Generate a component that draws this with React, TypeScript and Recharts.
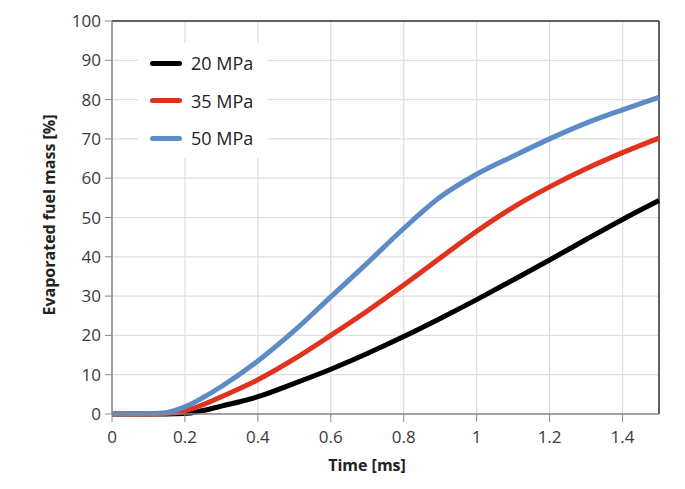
import React from "react";
import {
  LineChart,
  Line,
  XAxis,
  YAxis,
  CartesianGrid,
  ReferenceLine,
} from "recharts";

const time = [0, 0.1, 0.15, 0.2, 0.25, 0.3, 0.4, 0.5, 0.6, 0.7, 0.8, 0.9, 1.0, 1.1, 1.2, 1.3, 1.4, 1.5];
const mpa20 = [0, 0, 0, 0.1, 0.9, 2, 4.4, 7.8, 11.4, 15.4, 19.7, 24.3, 29.1, 34.1, 39.2, 44.4, 49.5, 54.3];
const mpa35 = [0, 0, 0.1, 0.8, 2.4, 4.4, 8.7, 14, 20, 26.2, 32.8, 39.7, 46.5, 52.6, 57.8, 62.4, 66.5, 70.2];
const mpa50 = [0, 0.1, 0.4, 1.8, 4.2, 7, 13.5, 21.2, 29.8, 38.4, 47.2, 55.2, 61, 65.6, 70, 74, 77.4, 80.6];

const xTicks = [0, 0.2, 0.4, 0.6, 0.8, 1, 1.2, 1.4];
const yTicks = [0, 10, 20, 30, 40, 50, 60, 70, 80, 90, 100];

const seriesNames = ["20 MPa", "35 MPa", "50 MPa"];
const seriesColors = ["#000000", "#e0321c", "#5d8bc5"];
const seriesKeys = ["mpa20", "mpa35", "mpa50"];

const data = time.map((t, i) => ({
  t,
  mpa20: mpa20[i],
  mpa35: mpa35[i],
  mpa50: mpa50[i],
}));

const font = "'Open Sans', 'Noto Sans', sans-serif";

function LegendBox() {
  return (
    <div
      style={{
        position: "absolute",
        left: 138,
        top: 43,
        width: 130,
        height: 115,
        background: "#fff",
        fontFamily: font,
      }}
    >
      {seriesNames.map((name, i) => (
        <div
          key={name}
          style={{ position: "absolute", left: 12, top: 8 + i * 37.5, display: "flex", alignItems: "center" }}
        >
          <div style={{ width: 32, height: 5, borderRadius: 3, background: seriesColors[i] }} />
          <span style={{ marginLeft: 9, fontSize: 18, color: "#222" }}>{name}</span>
        </div>
      ))}
    </div>
  );
}

export default function App() {
  return (
    <div style={{ position: "absolute", left: 0, top: 0, width: 685, height: 489, background: "#fff" }}>
      <LineChart width={685} height={489} data={data} margin={{ top: 21, right: 26, bottom: 25, left: 0 }}>
        <CartesianGrid stroke="#dedede" strokeWidth={1.2} />
        <XAxis
          dataKey="t"
          type="number"
          domain={[0, 1.5]}
          ticks={xTicks}
          height={50}
          tickSize={8}
          tickMargin={9}
          tickLine={{ stroke: "#888" }}
          axisLine={{ stroke: "#888", strokeWidth: 1.5 }}
          tick={{ fill: "#3a3a3a", fontSize: 17, fontFamily: font }}
          label={() => (
            <text x={367} y={471} textAnchor="middle" fontFamily={font} fontWeight="bold" fontSize={16} fill="#222">
              Time [ms]
            </text>
          )}
        />
        <YAxis
          type="number"
          domain={[0, 100]}
          ticks={yTicks}
          width={112}
          tickSize={7}
          tickMargin={4}
          tickLine={{ stroke: "#888" }}
          axisLine={{ stroke: "#888", strokeWidth: 1.5 }}
          tick={{ fill: "#3a3a3a", fontSize: 17, fontFamily: font }}
          label={() => (
            <text
              x={55}
              y={215}
              transform="rotate(-90 55 215)"
              textAnchor="middle"
              fontFamily={font}
              fontWeight="bold"
              fontSize={16}
              fill="#222"
            >
              Evaporated fuel mass [%]
            </text>
          )}
        />
        <ReferenceLine y={100} stroke="#333" strokeWidth={1.5} />
        <ReferenceLine x={1.5} stroke="#333" strokeWidth={1.5} />
        {seriesKeys.map((k, i) => (
          <Line
            key={k}
            dataKey={k}
            name={seriesNames[i]}
            type="monotone"
            stroke={seriesColors[i]}
            strokeWidth={5}
            dot={false}
            isAnimationActive={false}
          />
        ))}
      </LineChart>
      <LegendBox />
    </div>
  );
}
